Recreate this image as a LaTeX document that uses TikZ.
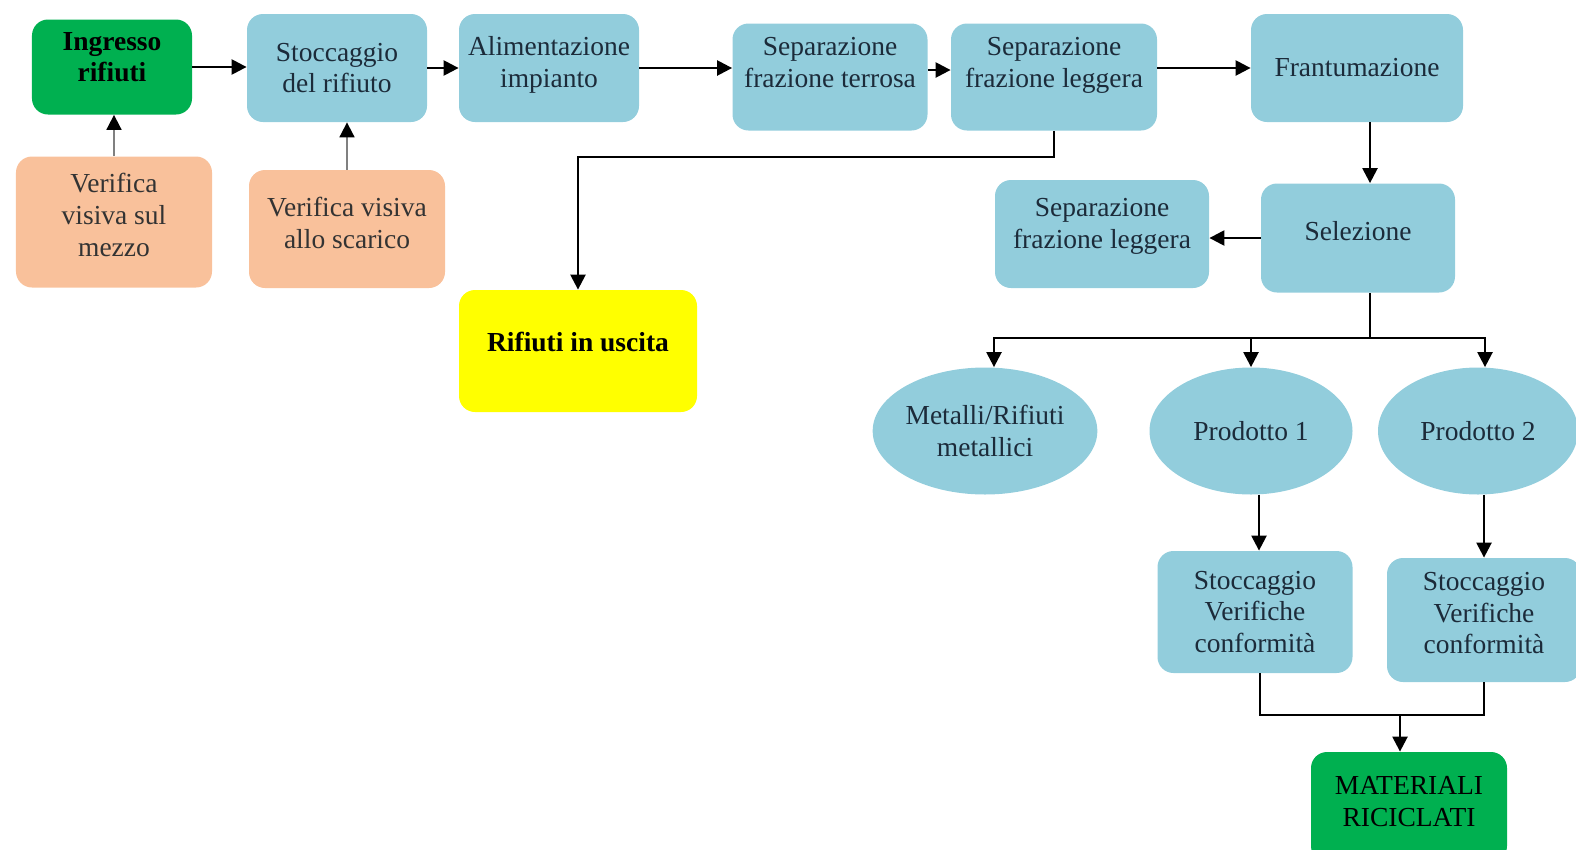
\documentclass[tikz,border=0pt]{standalone}
\usepackage{fontspec}
\setmainfont{Liberation Serif}
\usetikzlibrary{arrows.meta,shapes.geometric}
\definecolor{azzurro}{HTML}{92CDDC}
\definecolor{arancio}{HTML}{F9C19B}
\definecolor{verde}{HTML}{00B050}
\definecolor{giallo}{HTML}{FFFF00}
\definecolor{testo}{HTML}{1C2B3A}
\tikzset{
	box/.style={rounded corners=8bp, align=center, inner sep=1bp, text=testo,
		font=\fontsize{13.8}{16}\selectfont},
	blu/.style={box, fill=azzurro},
	aran/.style={box, fill=arancio, text=black!80},
	verd/.style={box, fill=verde, text=black},
	giall/.style={box, fill=giallo, text=black},
	ell/.style={ellipse, fill=azzurro, align=center, inner sep=0pt, text=testo,
		font=\fontsize{13.8}{16}\selectfont},
	alto/.style={text depth=#1},
	freccia/.style={-{Triangle[length=7.5bp,width=7.5bp]}, line width=1.2bp},
	grigia/.style={-{Triangle[length=7.5bp,width=7.5bp,black]}, line width=0.9bp, gray},
}
\begin{document}
\begin{tikzpicture}[x=0.5bp, y=-0.5bp]
	\useasboundingbox (0,0) rectangle (1576,849);

	% linea principale
	\node[verd, alto=10bp, font=\fontsize{13.8}{16}\selectfont\bfseries, minimum width=80bp, minimum height=47.5bp] (ingresso) at (112,67) {Ingresso\\rifiuti};
	\node[blu, minimum width=90bp, minimum height=54bp] (stoccaggio) at (337,68) {Stoccaggio\\del rifiuto};
	\node[blu, alto=6bp, minimum width=90bp, minimum height=54bp] (alimentazione) at (549,68) {Alimentazione\\impianto};
	\node[blu, alto=15bp, minimum width=97.5bp, minimum height=53.5bp] (septerrosa) at (830,77) {Separazione\\frazione terrosa};
	\node[blu, alto=15bp, minimum width=103bp, minimum height=53.5bp] (sepleggera) at (1054,77) {Separazione\\frazione leggera};
	\node[blu, minimum width=106bp, minimum height=54bp] (frantumazione) at (1357,68) {Frantumazione};

	% verifiche
	\node[aran, alto=7bp, minimum width=98bp, minimum height=65.5bp] (vmezzo) at (114,222) {Verifica\\visiva sul\\mezzo};
	\node[aran, alto=6bp, minimum width=98bp, minimum height=59bp] (vscarico) at (347,229) {Verifica visiva\\allo scarico};

	\node[giall, alto=9bp, font=\fontsize{13.8}{16}\selectfont\bfseries, minimum width=119bp, minimum height=61bp] (uscita) at (578,351) {Rifiuti in uscita};

	\node[blu, alto=11bp, minimum width=107bp, minimum height=54bp] (sepleggera2) at (1102,234) {Separazione\\frazione leggera};
	\node[blu, alto=7bp, minimum width=97bp, minimum height=54.5bp] (selezione) at (1358,238) {Selezione};

	% prodotti
	\node[ell, minimum width=106bp, minimum height=63.5bp] (metalli) at (985,431) {Metalli/Rifiuti\\metallici};
	\node[ell, minimum width=101.5bp, minimum height=63.5bp] (prodotto1) at (1251,431) {Prodotto 1};
	\node[ell, minimum width=100bp, minimum height=63.5bp] (prodotto2) at (1478,431) {Prodotto 2};

	\node[blu, minimum width=97.5bp, minimum height=61bp] (stocc1) at (1255,612) {Stoccaggio\\Verifiche\\conformità};
	\node[blu, alto=7bp, minimum width=97bp, minimum height=62bp] (stocc2) at (1484,620) {Stoccaggio\\Verifiche\\conformità};
	\node[verd, alto=6bp, minimum width=98bp, minimum height=55bp] (materiali) at (1409,807) {MATERIALI\\RICICLATI};

	% frecce
	\draw[freccia] (ingresso) -- (ingresso -| stoccaggio.west);
	\draw[freccia] (stoccaggio.east) -- (stoccaggio.east -| alimentazione.west);
	\draw[freccia] (alimentazione.east) -- (alimentazione.east -| septerrosa.west);
	\draw[freccia] ([yshift=3.5bp]septerrosa.east) -- ([yshift=3.5bp]sepleggera.west);
	\draw[freccia] (sepleggera.east |- frantumazione.west) -- (frantumazione.west);
	\draw[grigia] (vmezzo.north) -- (vmezzo.north |- ingresso.south);
	\draw[grigia] (vscarico.north) -- (vscarico.north |- stoccaggio.south);
	\draw[freccia] (sepleggera.south) -- ++(0,26) -| (uscita.north);
	\draw[freccia] ([xshift=6.5bp]frantumazione.south) -- ([xshift=6.5bp]frantumazione.south |- selezione.north);
	\draw[freccia] (selezione.west) -- (selezione.west -| sepleggera2.east);

	\coordinate (bivio) at (1370,338);
	\draw[line width=1.2bp] (selezione.south -| bivio) -- (bivio);
	\draw[freccia] (bivio) -| ([xshift=4.5bp]metalli.north);
	\draw[freccia] (bivio) -| (prodotto1.north);
	\draw[freccia] (bivio) -| ([xshift=3.5bp]prodotto2.north);
	\draw[freccia] ([xshift=4bp]prodotto1.south) -- ([xshift=4bp]prodotto1.south |- stocc1.north);
	\draw[freccia] ([xshift=3bp]prodotto2.south) -- ([xshift=3bp]prodotto2.south |- stocc2.north);

	\coordinate (unione) at (1400,715);
	\draw[line width=1.2bp] ([xshift=2.5bp]stocc1.south) |- (stocc2.south |- unione) -- (stocc2.south);
	\draw[freccia] (unione) -- (unione |- materiali.north);
\end{tikzpicture}
\end{document}
